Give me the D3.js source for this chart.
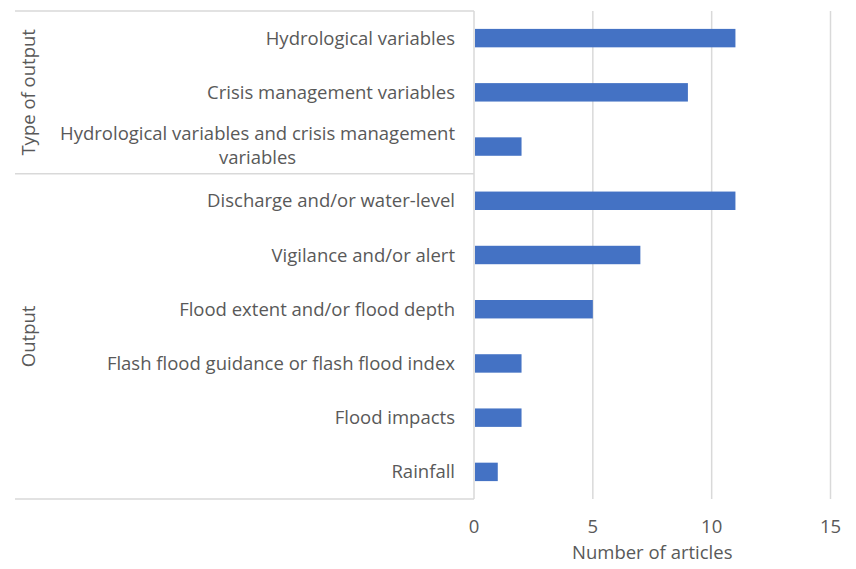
<!DOCTYPE html>
<html>
<head>
<meta charset="utf-8">
<script src="https://cdn.jsdelivr.net/npm/d3@7"></script>
<style>
  body { margin: 0; background: #fff; }
  text { font-family: "Open Sans", sans-serif; fill: #595959; }
</style>
</head>
<body>
<div id="chart"></div>
<script>
// categories, top to bottom
var categories = [
  'Hydrological variables',
  'Crisis management variables',
  'Hydrological variables and crisis management variables',
  'Discharge and/or water-level',
  'Vigilance and/or alert',
  'Flood extent and/or flood depth',
  'Flash flood guidance or flash flood index',
  'Flood impacts',
  'Rainfall'
];
var counts = [11, 9, 2, 11, 7, 5, 2, 2, 1];
var groupNames = ['Type of output', 'Output'];
var groupSizes = [3, 6];
var xTicks = [0, 5, 10, 15];

var width = 856, height = 569;
var margin = { top: 11, left: 474, right: 25, bottom: 70 };
var boxLeft = 15;
var fontSize = '18.5px';

var svg = d3.select('#chart').append('svg')
  .attr('width', width)
  .attr('height', height);

var x = d3.scaleLinear()
  .domain([0, 15])
  .range([margin.left, width - margin.right - 0.5]);

var y = d3.scaleBand()
  .domain(categories)
  .range([margin.top, height - margin.bottom])
  .paddingInner(0.66)
  .paddingOuter(0.33);

var lineColor = '#d9d9d9';

// gridlines
svg.append('g')
  .selectAll('line')
  .data(xTicks)
  .enter()
  .append('line')
  .attr('x1', d => x(d))
  .attr('x2', d => x(d))
  .attr('y1', margin.top)
  .attr('y2', height - margin.bottom)
  .attr('stroke', lineColor)
  .attr('stroke-width', 1.5);

// group box lines (top, separators, bottom)
var step = y.step();
var bounds = [0];
groupSizes.forEach((s, i) => bounds.push(bounds[i] + s));
svg.append('g')
  .selectAll('line')
  .data(bounds)
  .enter()
  .append('line')
  .attr('x1', boxLeft)
  .attr('x2', margin.left)
  .attr('y1', d => margin.top + d * step)
  .attr('y2', d => margin.top + d * step)
  .attr('stroke', lineColor)
  .attr('stroke-width', 1.5);

// bars
svg.append('g')
  .selectAll('rect')
  .data(categories)
  .enter()
  .append('rect')
  .attr('x', x(0) + 1)
  .attr('y', d => y(d))
  .attr('width', (d, i) => x(counts[i]) - x(0) - 1)
  .attr('height', y.bandwidth())
  .attr('fill', '#4472c4');

// category labels
var labelX = 455;
var labels = svg.append('g');
categories.forEach((d, i) => {
  var cy = y(d) + y.bandwidth() / 2;
  if (d.length > 45) {
    var line1 = 'Hydrological variables and crisis management';
    var t = labels.append('text')
      .attr('x', labelX)
      .attr('y', cy - 6.5)
      .attr('text-anchor', 'end')
      .style('font-size', fontSize)
      .text(line1);
    var w = t.node().getComputedTextLength();
    labels.append('text')
      .attr('x', labelX - w / 2)
      .attr('y', cy + 17.5)
      .attr('text-anchor', 'middle')
      .style('font-size', fontSize)
      .text('variables');
  } else {
    labels.append('text')
      .attr('x', labelX)
      .attr('y', cy + 6.5)
      .attr('text-anchor', 'end')
      .style('font-size', fontSize)
      .text(d);
  }
});

// group labels, rotated
groupNames.forEach((g, i) => {
  var cy = margin.top + (bounds[i] + bounds[i + 1]) / 2 * step;
  svg.append('text')
    .attr('transform', 'translate(35,' + cy + ') rotate(-90)')
    .attr('text-anchor', 'middle')
    .style('font-size', fontSize)
    .text(g);
});

// x tick labels
svg.append('g')
  .selectAll('text')
  .data(xTicks)
  .enter()
  .append('text')
  .attr('x', d => x(d))
  .attr('y', 533)
  .attr('text-anchor', 'middle')
  .style('font-size', fontSize)
  .text(d => d);

// axis title
svg.append('text')
  .attr('x', (x(0) + x(15)) / 2)
  .attr('y', 559)
  .attr('text-anchor', 'middle')
  .style('font-size', fontSize)
  .text('Number of articles');
</script>
</body>
</html>
